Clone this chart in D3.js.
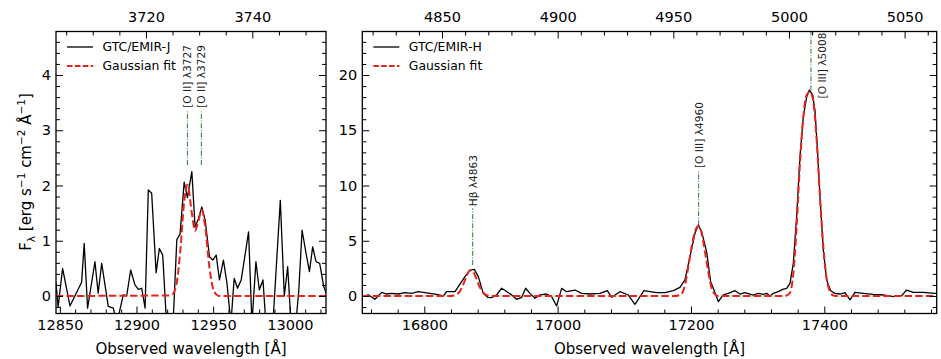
<!DOCTYPE html>
<html><head><meta charset="utf-8">
<script src="https://cdn.jsdelivr.net/npm/d3@7"></script>
<style>
body{margin:0;background:#fff}
svg{display:block}
text{font-family:"DejaVu Sans",sans-serif}
</style>
</head><body>
<svg id="c" width="941" height="359"></svg>
<script>
// ---------------- data ----------------
const onePlusZ = 3.4694;

// J band spectrum (observed wavelength, flux)
const jWave = [12847.4,12848.9,12851.8,12856.6,12859.8,12864.2,12865.9,12868.1,12872.9,12875.0,12877.3,12881.6,12884.9,12887.1,12891.4,12893.6,12896.2,12899.0,12901.2,12903.4,12905.6,12907.7,12909.9,12912.8,12914.9,12917.1,12919.3,12921.7,12924.1,12926.3,12928.4,12931.1,12933.2,12936.1,12938.2,12940.4,12942.6,12944.8,12947.6,12949.8,12952.0,12954.1,12956.7,12959.0,12961.6,12963.7,12965.9,12968.3,12973.1,12975.3,12977.9,12980.1,12982.5,12985.1,12987.3,12989.4,12993.8,12996.4,12998.6,13001.0,13003.6,13005.8,13008.0,13010.6,13012.8,13014.9,13017.1,13019.5,13022.1,13024.5];
const jFlux = [0.25,-0.2,0.5,-0.18,0.0,0.25,0.95,-0.22,0.62,0.05,0.59,-0.19,-0.22,-0.5,0.02,0.0,0.47,0.2,0.12,0.14,-0.22,1.92,1.86,0.42,0.86,0.74,-0.35,-0.9,-0.35,1.02,1.12,2.06,1.78,2.25,1.25,1.4,1.61,1.37,0.71,0.65,0.74,0.29,0.65,0.23,-0.5,0.32,0.14,0.29,1.16,-0.5,0.62,0.11,0.29,-0.8,-1.0,-0.3,1.73,0.0,0.53,-0.6,-0.6,0.08,1.19,0.77,0.44,0.89,0.62,0.59,0.17,0.0];
const jFitWave = [12847.4,12922.0,12924.1,12926.3,12928.4,12931.1,12933.2,12936.1,12938.2,12940.4,12942.6,12944.8,12947.6,12949.8,12952.0,12954.1,13024.5];
const jFitFlux = [0,0.01,0.05,0.25,0.76,1.70,2.02,1.50,1.18,1.36,1.56,1.25,0.51,0.15,0.03,0.0,0];

// H band spectrum
const hWave = [16707,16716,16726,16736,16743.5,16751,16761,16771,16781,16791,16798.5,16808.5,16818.5,16828.5,16833.5,16846,16851,16861,16868.5,16875,16881,16888.5,16895,16901,16908.5,16916,16923.5,16931,16938.5,16946,16952,16958.5,16966,16973.5,16983.5,16991,16998.5,17006,17013.5,17026,17036,17048.5,17063.5,17074.5,17081,17093.5,17106,17116,17129.5,17138.5,17148.5,17161,17173.5,17183.5,17191,17198.5,17206,17211,17216,17223.5,17229.5,17234.5,17241,17248.5,17256,17266,17273.5,17281,17288.5,17293.5,17301,17308.5,17313.5,17318.5,17323.5,17331,17337.5,17343.5,17348.5,17353.5,17358.5,17363.5,17368.5,17373.5,17377.5,17382.5,17386,17389.5,17393.5,17398.5,17403.5,17409.5,17416,17423.5,17431,17438.5,17446,17458.5,17473.5,17488.5,17503.5,17516,17523.5,17533.5,17548.5,17566,17572];
const hFlux = [-0.06,0.1,-0.3,0.33,0.18,0.24,0.18,0.3,0.24,0.39,0.33,0.24,0.15,0.0,0.4,0.4,0.84,1.75,2.35,2.41,1.75,0.24,-0.12,-0.15,0.1,0.7,0.4,0.1,-0.3,-0.12,0.7,0.24,-0.2,0.1,0.18,-0.06,-0.9,0.69,0.39,0.54,0.24,0.18,0.24,0.48,-0.12,0.39,0.09,-0.75,0.48,0.39,0.3,0.3,0.48,0.78,1.45,3.56,5.67,6.43,5.82,4.0,1.3,0.54,-0.51,0.1,0.24,0.48,0.18,0.3,0.18,0.09,0.24,0.15,0.24,0.0,0.24,0.4,0.6,0.69,1.15,2.96,7.2,12.6,16.2,18.0,18.64,18.2,16.8,13.5,9.0,4.2,1.45,0.48,0.24,0.18,0.3,-0.36,0.33,0.24,0.15,0.09,-0.06,0.03,0.54,0.33,0.33,0.24,0.24];
const hFitWave = [16707,16838,16843,16848,16853,16858,16863,16867,16870,16873,16877,16882,16887,16892,16897,16902,17176,17181,17186,17191,17196,17201,17206,17211,17216,17221,17226,17231,17236,17241,17338,17343.5,17348.5,17353.5,17358.5,17363.5,17368.5,17373.5,17378.5,17383.5,17388.5,17393.5,17398.5,17403.5,17408.5,17413.5,17420,17572];
const hFitFlux = [0,0,0.03,0.12,0.39,0.97,1.74,2.22,2.35,2.22,1.74,0.97,0.39,0.12,0.03,0,0,0.05,0.2,1.0,2.65,4.46,5.82,6.33,5.67,4.0,2.2,0.69,0.15,0,0,0.05,0.3,2.0,6.3,12.0,16.2,18.2,18.5,17.6,14.1,9.0,4.5,1.6,0.4,0.05,0,0];

// emission line markers
const jLineNames = ["[O II] λ3727","[O II] λ3729"];
const jLineWave = [12933.2,12942.3];
const jLineLow = [2.37,2.37];
const jLineHigh = [3.37,3.37];
const hLineNames = ["Hβ λ4863","[O III] λ4960","[O III] λ5008"];
const hLineWave = [16872.6,17211.5,17380];
const hLineLow = [2.8,6.4,18.6];
const hLineHigh = [7.94,11.4,24];
const hLineLabelSide = [false,false,true];

// ticks
const jBottomTicks = [12850,12900,12950,13000];
const jTopTicks = [3720,3740];
const jYTicks = [0,1,2,3,4];
const hBottomTicks = [16800,17000,17200,17400];
const hTopTicks = [4850,4900,4950,5000,5050];
const hYTicks = [0,5,10,15,20];

const jLegend = ["GTC/EMIR-J","Gaussian fit"];
const hLegend = ["GTC/EMIR-H","Gaussian fit"];

// ---------------- drawing ----------------
const svg = d3.select("#c");
const TICKFS = 14.5;

function drawPanel(o){
  const {x0,x1,y0,y1} = o.box;
  const x = d3.scaleLinear().domain(o.xDomain).range([x0,x1]);
  const y = d3.scaleLinear().domain(o.yDomain).range([y1,y0]);
  const xr = d3.scaleLinear().domain([o.xDomain[0]/onePlusZ, o.xDomain[1]/onePlusZ]).range([x0,x1]);
  const g = svg.append("g");
  const cid = o.id + "-clip";
  svg.append("defs").append("clipPath").attr("id",cid)
    .append("rect").attr("x",x0).attr("y",y0).attr("width",x1-x0).attr("height",y1-y0);
  const plot = g.append("g").attr("clip-path",`url(#${cid})`);

  // line markers
  o.lineWave.forEach((w,i)=>{
    plot.append("line")
      .attr("x1",x(w)).attr("x2",x(w))
      .attr("y1",y(o.lineLow[i])).attr("y2",y(o.lineHigh[i]))
      .attr("stroke","#2e7d2e").attr("stroke-width",1)
      .attr("stroke-dasharray","5,1.6,1,1.6");
  });

  const lineGen = d3.line().x(d=>x(d[0])).y(d=>y(d[1]));
  const fitGen = d3.line().x(d=>x(d[0])).y(d=>y(d[1])).curve(d3.curveMonotoneX);
  plot.append("path").datum(d3.zip(o.wave,o.flux)).attr("d",lineGen)
    .attr("fill","none").attr("stroke","#000").attr("stroke-width",1.3).attr("stroke-linejoin","round");
  plot.append("path").datum(d3.zip(o.fitWave,o.fitFlux)).attr("d",fitGen)
    .attr("fill","none").attr("stroke","#e8231c").attr("stroke-width",2).attr("stroke-dasharray","7.4,3.2");

  // line labels
  o.lineWave.forEach((w,i)=>{
    const side = o.lineSide ? o.lineSide[i] : false;
    const t = g.append("text").attr("font-size",10.6).attr("fill","#222")
      .attr("dominant-baseline","central").text(o.lineNames[i]);
    if(side){
      t.attr("text-anchor","end").attr("transform",`translate(${x(w)+11},${y0+1}) rotate(-90)`);
    } else {
      t.attr("text-anchor","start").attr("transform",`translate(${x(w)},${y(o.lineHigh[i])-2}) rotate(-90)`);
    }
  });

  // axes
  function axis(gen, tr, vals, size, fmt, pad){
    const a = g.append("g").attr("transform",tr)
      .call(gen.tickValues(vals).tickSizeInner(-size).tickSizeOuter(0).tickPadding(pad).tickFormat(fmt));
    a.select(".domain").remove();
    a.selectAll("line").attr("stroke","#000").attr("stroke-width",1);
    a.selectAll("text").attr("font-size",TICKFS).attr("font-family","DejaVu Sans").attr("fill","#000");
    return a;
  }
  const inR = (s,lo,hi)=>v=>v>lo+1e-9&&v<hi-1e-9;
  const fmt = d3.format("d");
  const none = ()=>"";
  const xMin = d3.range(o.xMinorStart, o.xDomain[1], o.xMinorStep).filter(v=>v>o.xDomain[0]&&!o.xTicks.includes(v));
  const rMin = d3.range(o.rMinorStart, o.xDomain[1]/onePlusZ, o.rMinorStep).filter(v=>v>o.xDomain[0]/onePlusZ&&!o.rTicks.includes(v));
  const yMin = d3.range(o.yMinorStart, o.yDomain[1], o.yMinorStep).filter(v=>v>o.yDomain[0]&&!o.yTicks.some(t=>Math.abs(t-v)<1e-6));

  axis(d3.axisBottom(x), `translate(0,${y1})`, o.xTicks, 7, fmt, 6);
  axis(d3.axisBottom(x), `translate(0,${y1})`, xMin, 4, none, 6);
  axis(d3.axisTop(xr), `translate(0,${y0})`, o.rTicks, 7, fmt, 9.6);
  axis(d3.axisTop(xr), `translate(0,${y0})`, rMin, 4, none, 9.6);
  axis(d3.axisLeft(y), `translate(${x0},0)`, o.yTicks, 7, fmt, 5);
  axis(d3.axisLeft(y), `translate(${x0},0)`, yMin, 4, none, 5);
  axis(d3.axisRight(y), `translate(${x1},0)`, o.yTicks, 7, none, 5);
  axis(d3.axisRight(y), `translate(${x1},0)`, yMin, 4, none, 5);

  g.append("rect").attr("x",x0).attr("y",y0).attr("width",x1-x0).attr("height",y1-y0)
    .attr("fill","none").attr("stroke","#000").attr("stroke-width",1.3);

  // x label
  g.append("text").attr("x",(x0+x1)/2).attr("y",354).attr("text-anchor","middle")
    .attr("font-size",15).text("Observed wavelength [Å]");

  // legend
  const lx = x0+11, ly1 = y0+15.5, ly2 = y0+34.5;
  g.append("line").attr("x1",lx).attr("x2",lx+26).attr("y1",ly1).attr("y2",ly1)
    .attr("stroke","#000").attr("stroke-width",1.3);
  g.append("line").attr("x1",lx).attr("x2",lx+26).attr("y1",ly2).attr("y2",ly2)
    .attr("stroke","#e8231c").attr("stroke-width",2).attr("stroke-dasharray","5.5,2.4");
  g.append("text").attr("x",lx+35.5).attr("y",ly1+4.4).attr("font-size",12.4).text(o.legend[0]);
  g.append("text").attr("x",lx+35.5).attr("y",ly2+4.4).attr("font-size",12.4).text(o.legend[1]);
}

drawPanel({
  id:"j", box:{x0:56,x1:326,y0:31.5,y1:313.5},
  xDomain:[12847.5,13023.6], yDomain:[-0.317,4.787],
  wave:jWave, flux:jFlux, fitWave:jFitWave, fitFlux:jFitFlux,
  lineNames:jLineNames, lineWave:jLineWave, lineLow:jLineLow, lineHigh:jLineHigh,
  xTicks:jBottomTicks, rTicks:jTopTicks, yTicks:jYTicks,
  xMinorStart:12850, xMinorStep:10, rMinorStart:3705, rMinorStep:5, yMinorStart:-0.2, yMinorStep:0.2,
  legend:jLegend
});
drawPanel({
  id:"h", box:{x0:362.3,x1:936.7,y0:31.5,y1:313.5},
  xDomain:[16707,17568.6], yDomain:[-1.584,23.94],
  wave:hWave, flux:hFlux, fitWave:hFitWave, fitFlux:hFitFlux,
  lineNames:hLineNames, lineWave:hLineWave, lineLow:hLineLow, lineHigh:hLineHigh, lineSide:hLineLabelSide,
  xTicks:hBottomTicks, rTicks:hTopTicks, yTicks:hYTicks,
  xMinorStart:16720, xMinorStep:40, rMinorStart:4820, rMinorStep:10, yMinorStart:-1, yMinorStep:1,
  legend:hLegend
});

// y label
const yl = svg.append("text").attr("transform","translate(31,172) rotate(-90)")
  .attr("text-anchor","middle").attr("font-size",15);
yl.append("tspan").text("F");
yl.append("tspan").attr("font-size",10.5).attr("dy",4).text("λ");
yl.append("tspan").attr("dy",-4).text(" [erg s");
yl.append("tspan").attr("font-size",10.5).attr("dy",-6).text("−1");
yl.append("tspan").attr("dy",6).text(" cm");
yl.append("tspan").attr("font-size",10.5).attr("dy",-6).text("−2");
yl.append("tspan").attr("dy",6).text(" Å");
yl.append("tspan").attr("font-size",10.5).attr("dy",-6).text("−1");
yl.append("tspan").attr("dy",6).text("]");
</script>
</body></html>
